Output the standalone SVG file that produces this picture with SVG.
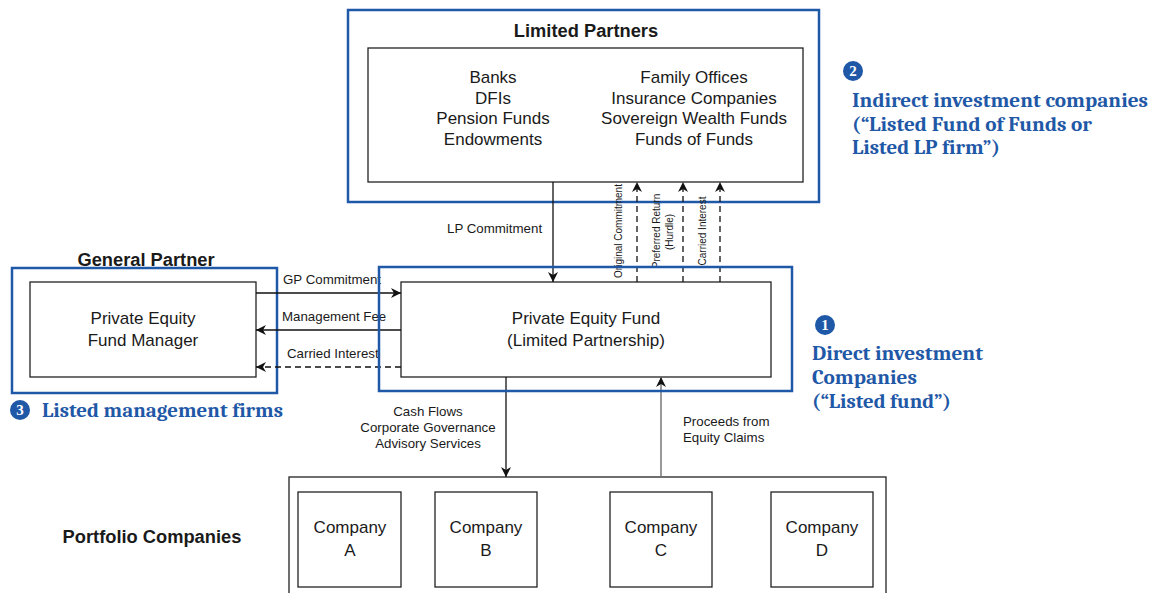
<svg xmlns="http://www.w3.org/2000/svg" width="1155" height="593" viewBox="0 0 1155 593">
<defs>
<style>
.blue{fill:none;stroke:#1f58a6;stroke-width:2.5}
.box{fill:#fff;stroke:#222;stroke-width:1.3}
.t{font-family:"Liberation Sans",Arial,sans-serif;fill:#1a1a1a}
.big{font-size:17px;text-anchor:middle}
.bold{font-size:18.3px;font-weight:bold;text-anchor:middle}
.sm{font-size:13.3px}
.vs{font-size:10px;text-anchor:middle}
.ln{stroke:#111;stroke-width:1.3;fill:none}
.dash{stroke:#111;stroke-width:1.3;fill:none;stroke-dasharray:6 4}
.note{font-family:Cambria,"Liberation Serif","DejaVu Serif",serif;font-weight:bold;fill:#1f58a6;font-size:20.5px}
.num{font-family:"Liberation Serif",serif;font-weight:bold;fill:#fff;font-size:15px;text-anchor:middle}
</style>
<marker id="ah" viewBox="0 0 10 10" refX="10" refY="5" markerWidth="10" markerHeight="10" markerUnits="userSpaceOnUse" orient="auto">
<path d="M0,0 L10,5 L0,10 L3,5 Z" fill="#111"/>
</marker>
</defs>
<rect width="1155" height="593" fill="#fff"/>

<g id="limited-partners">
<rect class="blue" x="348" y="10" width="471" height="192"/>
<text class="t bold" x="586" y="37">Limited Partners</text>
<rect class="box" x="368" y="48" width="435" height="134"/>
<g class="t big">
<text x="493" y="83">Banks</text>
<text x="493" y="104">DFIs</text>
<text x="493" y="124">Pension Funds</text>
<text x="493" y="145">Endowments</text>
<text x="694" y="83">Family Offices</text>
<text x="694" y="104">Insurance Companies</text>
<text x="694" y="124">Sovereign Wealth Funds</text>
<text x="694" y="145">Funds of Funds</text>
</g>
</g>

<g id="general-partner">
<text class="t bold" x="146" y="266">General Partner</text>
<rect class="blue" x="12" y="268" width="265" height="125"/>
<rect class="box" x="30" y="282" width="226" height="95"/>
<text class="t big" x="143" y="324">Private Equity</text>
<text class="t big" x="143" y="346">Fund Manager</text>
</g>

<g id="pe-fund">
<rect class="box" x="401" y="282" width="370" height="95"/>
<text class="t big" x="586" y="324">Private Equity Fund</text>
<text class="t big" x="586" y="346">(Limited Partnership)</text>
</g>

<g id="portfolio">
<text class="t bold" x="152" y="543">Portfolio Companies</text>
<rect class="box" x="289" y="477" width="597" height="130"/>
<g id="company-a"><rect class="box" x="298" y="492" width="103" height="95"/><text class="t big" x="350" y="533">Company</text><text class="t big" x="350" y="556">A</text></g>
<g id="company-b"><rect class="box" x="435" y="492" width="102" height="95"/><text class="t big" x="486" y="533">Company</text><text class="t big" x="486" y="556">B</text></g>
<g id="company-c"><rect class="box" x="610" y="492" width="102" height="95"/><text class="t big" x="661" y="533">Company</text><text class="t big" x="661" y="556">C</text></g>
<g id="company-d"><rect class="box" x="771" y="492" width="102" height="95"/><text class="t big" x="822" y="533">Company</text><text class="t big" x="822" y="556">D</text></g>
</g>

<g id="connectors">
<line class="ln" x1="553" y1="182" x2="553" y2="282" marker-end="url(#ah)"/>
<line class="dash" x1="637" y1="282" x2="637" y2="182" marker-end="url(#ah)"/>
<line class="dash" x1="683" y1="282" x2="683" y2="182" marker-end="url(#ah)"/>
<line class="dash" x1="720" y1="282" x2="720" y2="182" marker-end="url(#ah)"/>
<line class="ln" x1="256" y1="293" x2="401" y2="293" marker-end="url(#ah)"/>
<line class="ln" x1="401" y1="330" x2="256" y2="330" marker-end="url(#ah)"/>
<line class="dash" x1="401" y1="367" x2="256" y2="367" marker-end="url(#ah)"/>
<line class="ln" x1="506" y1="377" x2="506" y2="477" marker-end="url(#ah)"/>
<line x1="661" y1="477" x2="661" y2="377" stroke="#777" stroke-width="1.5" marker-end="url(#ah)"/>
<g class="t sm">
<text x="447" y="233">LP Commitment</text>
<text x="283" y="284">GP Commitment</text>
<text x="282" y="321">Management Fee</text>
<text x="287" y="358">Carried Interest</text>
<text x="428" y="416" text-anchor="middle">Cash Flows</text>
<text x="428" y="432" text-anchor="middle">Corporate Governance</text>
<text x="428" y="448" text-anchor="middle">Advisory Services</text>
<text x="683" y="426">Proceeds from</text>
<text x="683" y="442">Equity Claims</text>
</g>
<g class="t vs">
<text transform="translate(622,231) rotate(-90)">Original Commitment</text>
<text transform="translate(660,231) rotate(-90)">Preferred Return</text>
<text transform="translate(673,232) rotate(-90)">(Hurdle)</text>
<text transform="translate(706,231) rotate(-90)">Carried Interest</text>
</g>
</g>

<g id="fund-outline">
<rect class="blue" x="379" y="267" width="413" height="124"/>
</g>

<g id="note-2">
<circle cx="853" cy="71" r="10" fill="#1f58a6"/>
<text class="num" x="853" y="76">2</text>
<text class="note" x="852" y="107" textLength="296" lengthAdjust="spacingAndGlyphs">Indirect investment companies</text>
<text class="note" x="852" y="131" textLength="240" lengthAdjust="spacingAndGlyphs">(“Listed Fund of Funds or</text>
<text class="note" x="852" y="154" textLength="148" lengthAdjust="spacingAndGlyphs">Listed LP firm”)</text>
</g>
<g id="note-1">
<circle cx="825" cy="325" r="10" fill="#1f58a6"/>
<text class="num" x="825" y="330">1</text>
<text class="note" x="812" y="360" textLength="171" lengthAdjust="spacingAndGlyphs">Direct investment</text>
<text class="note" x="812" y="384" textLength="105" lengthAdjust="spacingAndGlyphs">Companies</text>
<text class="note" x="812" y="408" textLength="139" lengthAdjust="spacingAndGlyphs">(“Listed fund”)</text>
</g>
<g id="note-3">
<circle cx="20" cy="410" r="10" fill="#1f58a6"/>
<text class="num" x="20" y="415">3</text>
<text class="note" x="42" y="417" textLength="241" lengthAdjust="spacingAndGlyphs">Listed management firms</text>
</g>
</svg>
